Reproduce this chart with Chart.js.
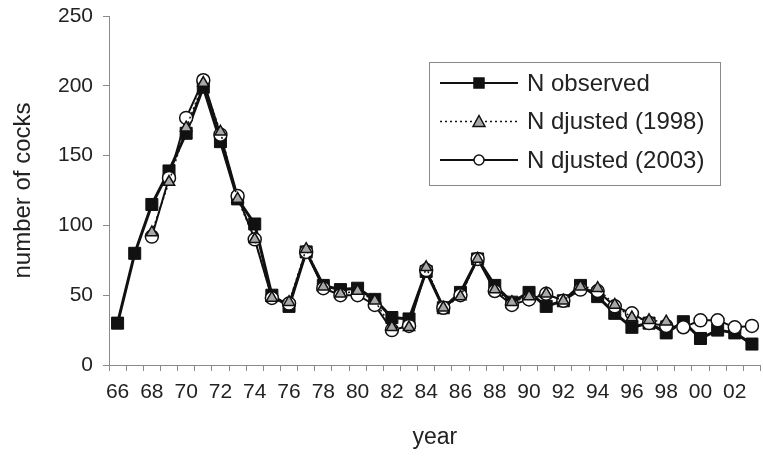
<!DOCTYPE html>
<html>
<head>
<meta charset="utf-8">
<script src="https://cdn.jsdelivr.net/npm/chart.js@4.4.1/dist/chart.umd.min.js"></script>
<style>
html, body { margin: 0; padding: 0; background: #fff; overflow: hidden; }
#wrap { width: 770px; height: 459px; }
</style>
</head>
<body>
<div id="wrap"><canvas id="cocksChart" width="770" height="459"></canvas></div>
<script>
(function () {
	'use strict';

	// years 1966 - 2003, two-digit labels
	var years = ['66', '67', '68', '69', '70', '71', '72', '73', '74', '75',
		'76', '77', '78', '79', '80', '81', '82', '83', '84', '85',
		'86', '87', '88', '89', '90', '91', '92', '93', '94', '95',
		'96', '97', '98', '99', '00', '01', '02', '03'];
	var shownYears = ['66', '68', '70', '72', '74', '76', '78', '80', '82', '84',
		'86', '88', '90', '92', '94', '96', '98', '00', '02'];
	var yTicks = [0, 50, 100, 150, 200, 250];

	var nObserved = [30, 80, 115, 139, 166, 199, 160, 119, 101, 50,
		42, 81, 57, 54, 55, 47, 34, 33, 67, 41,
		52, 76, 57, 45, 52, 42, 46, 57, 49, 37,
		27, 30, 23, 31, 19, 25, 23, 15];
	var nAdjusted1998 = [null, null, 95, 131, 170, 202, 167, 119, 90, 48,
		45, 83, 56, 51, 53, 46, 27, 27, 70, 41,
		49, 76, 54, 45, 49, 51, 46, 56, 55, 43,
		34, 32, 31, null, null, null, null, null];
	var nAdjusted2003 = [null, null, 92, 134, 177, 204, 165, 121, 90, 48,
		44, 81, 55, 50, 50, 43, 25, 28, 68, 41,
		50, 76, 53, 43, 47, 51, 46, 54, 53, 42,
		37, 30, 28, 27, 32, 32, 27, 28];

	var textColor = '#222';
	var axisColor = '#8a8a8a';
	var fontFamily = '"Liberation Sans", Arial, sans-serif';

	// legend drawn as a framed box with line + marker samples
	var boxLegend = {
		id: 'boxLegend',
		afterDraw: function (chart) {
			var ctx = chart.ctx;
			var sets = chart.data.datasets;
			ctx.save();
			ctx.strokeStyle = axisColor;
			ctx.lineWidth = 1;
			ctx.setLineDash([]);
			ctx.strokeRect(429.5, 62.5, 291, 123);

			ctx.font = '24px ' + fontFamily;
			ctx.textBaseline = 'middle';
			ctx.textAlign = 'left';

			sets.forEach(function (ds, i) {
				var y = 83 + i * 38.5;
				ctx.beginPath();
				ctx.setLineDash(ds.borderDash || []);
				ctx.lineWidth = ds.borderWidth > 2 ? 2 : ds.borderWidth;
				ctx.strokeStyle = ds.borderColor;
				ctx.moveTo(440, y);
				ctx.lineTo(518, y);
				ctx.stroke();
				ctx.setLineDash([]);

				ctx.fillStyle = ds.pointBackgroundColor;
				ctx.strokeStyle = ds.pointBorderColor;
				ctx.lineWidth = 1.5;
				ctx.beginPath();
				if (ds.pointStyle === 'rect') {
					ctx.rect(474, y - 5, 10, 10);
				} else if (ds.pointStyle === 'triangle') {
					ctx.moveTo(479, y - 6);
					ctx.lineTo(485, y + 5);
					ctx.lineTo(473, y + 5);
					ctx.closePath();
				} else {
					ctx.arc(479, y, 5, 0, Math.PI * 2);
				}
				ctx.fill();
				ctx.stroke();

				ctx.fillStyle = textColor;
				ctx.fillText(ds.label, 527, y + 1);
			});
			ctx.restore();
		}
	};

	new Chart(document.getElementById('cocksChart'), {
		type: 'line',
		data: {
			labels: years,
			datasets: [{
					label: 'N observed',
					data: nObserved,
					borderColor: '#111',
					borderWidth: 3,
					pointStyle: 'rect',
					pointRadius: 8.5,
					pointBackgroundColor: '#111',
					pointBorderColor: '#111',
					pointBorderWidth: 1,
					tension: 0,
					order: 3
				},
				{
					label: 'N djusted (1998)',
					data: nAdjusted1998,
					borderColor: '#111',
					borderWidth: 1.5,
					borderDash: [2, 3],
					pointStyle: 'triangle',
					pointRadius: 6.5,
					pointBackgroundColor: '#a8a8a8',
					pointBorderColor: '#111',
					pointBorderWidth: 1.5,
					tension: 0,
					order: 1
				},
				{
					label: 'N djusted (2003)',
					data: nAdjusted2003,
					borderColor: '#111',
					borderWidth: 2,
					pointStyle: 'circle',
					pointRadius: 6.5,
					pointBackgroundColor: '#fff',
					pointBorderColor: '#111',
					pointBorderWidth: 1.5,
					tension: 0,
					order: 2
				}
			]
		},
		options: {
			responsive: false,
			animation: false,
			layout: {
				padding: { left: 0, right: 4, top: 16, bottom: 0 }
			},
			plugins: {
				legend: { display: false },
				tooltip: { enabled: false }
			},
			scales: {
				x: {
					type: 'category',
					offset: true,
					afterFit: function (scale) {
						scale.height = 94;
						scale.paddingLeft = 0;
						scale.paddingRight = 0;
					},
					grid: {
						display: true,
						offset: true,
						drawOnChartArea: false,
						drawTicks: true,
						tickLength: 6,
						color: axisColor
					},
					border: { color: axisColor, width: 1 },
					ticks: {
						autoSkip: false,
						maxRotation: 0,
						padding: 9,
						color: textColor,
						font: { family: fontFamily, size: 21 },
						callback: function (value, index) {
							var lab = years[index];
							return shownYears.indexOf(lab) >= 0 ? lab : '';
						}
					},
					title: {
						display: true,
						text: 'year',
						color: textColor,
						font: { family: fontFamily, size: 23 },
						padding: { top: 0, bottom: 8 }
					}
				},
				y: {
					min: 0,
					max: 250,
					afterFit: function (scale) {
						scale.width = 109;
						scale.paddingTop = 0;
						scale.paddingBottom = 0;
					},
					afterBuildTicks: function (scale) {
						scale.ticks = yTicks.map(function (v) { return { value: v }; });
					},
					grid: {
						display: true,
						drawOnChartArea: false,
						drawTicks: true,
						tickLength: 6,
						color: axisColor
					},
					border: { color: axisColor, width: 1 },
					ticks: {
						padding: 10,
						color: textColor,
						font: { family: fontFamily, size: 21 }
					},
					title: {
						display: true,
						text: 'number of cocks',
						color: textColor,
						font: { family: fontFamily, size: 24 },
						padding: { top: 9, bottom: 0 }
					}
				}
			}
		},
		plugins: [boxLegend]
	});
})();
</script>
</body>
</html>
